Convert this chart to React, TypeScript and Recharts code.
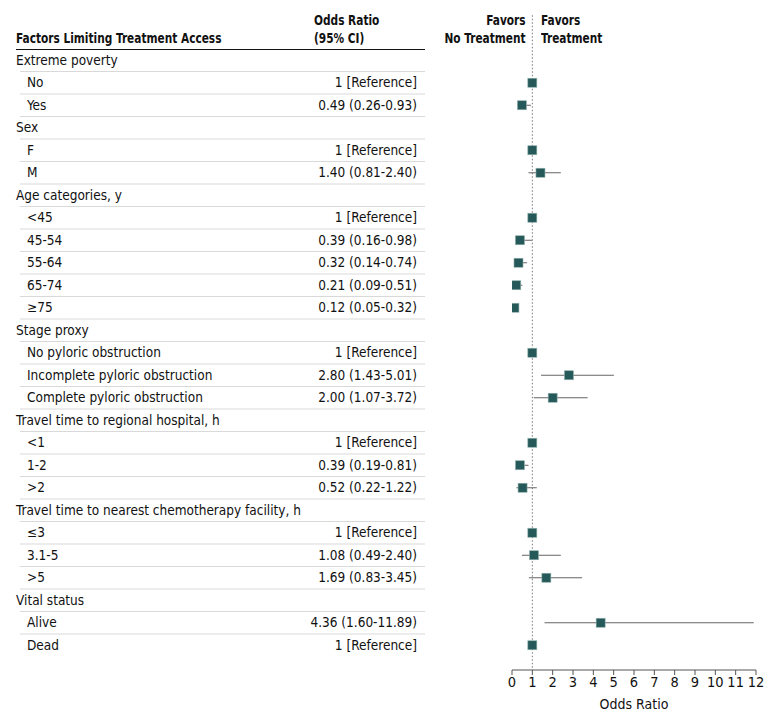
import React from "react";
import {
  ErrorBar,
  ReferenceLine,
  Scatter,
  ScatterChart,
  XAxis,
  YAxis,
} from "recharts";

// table rows, top to bottom; sub rows are indented
const labels = [
  "Extreme poverty", "No", "Yes",
  "Sex", "F", "M",
  "Age categories, y", "<45", "45-54", "55-64", "65-74", "≥75",
  "Stage proxy", "No pyloric obstruction", "Incomplete pyloric obstruction", "Complete pyloric obstruction",
  "Travel time to regional hospital, h", "<1", "1-2", ">2",
  "Travel time to nearest chemotherapy facility, h", "≤3", "3.1-5", ">5",
  "Vital status", "Alive", "Dead",
];
const isGroup = [
  true, false, false,
  true, false, false,
  true, false, false, false, false, false,
  true, false, false, false,
  true, false, false, false,
  true, false, false, false,
  true, false, false,
];
// odds ratio and CI (null = group header row)
const oddsRatio = [
  null, 1, 0.49,
  null, 1, 1.4,
  null, 1, 0.39, 0.32, 0.21, 0.12,
  null, 1, 2.8, 2.0,
  null, 1, 0.39, 0.52,
  null, 1, 1.08, 1.69,
  null, 4.36, 1,
];
const ciLow = [
  null, null, 0.26,
  null, null, 0.81,
  null, null, 0.16, 0.14, 0.09, 0.05,
  null, null, 1.43, 1.07,
  null, null, 0.19, 0.22,
  null, null, 0.49, 0.83,
  null, 1.6, null,
];
const ciHigh = [
  null, null, 0.93,
  null, null, 2.4,
  null, null, 0.98, 0.74, 0.51, 0.32,
  null, null, 5.01, 3.72,
  null, null, 0.81, 1.22,
  null, null, 2.4, 3.45,
  null, 11.89, null,
];
const xTicks = [0, 1, 2, 3, 4, 5, 6, 7, 8, 9, 10, 11, 12];

const FONT = "'DejaVu Sans Condensed', 'Liberation Sans', sans-serif";
const MARK = "#265959";
const INK = "#111";

const fmt = (v: number) => v.toFixed(2);

const orText = labels.map((_, i) => {
  const or = oddsRatio[i];
  if (or == null) return "";
  if (ciLow[i] == null) return "1 [Reference]";
  return `${fmt(or)} (${fmt(ciLow[i] as number)}-${fmt(ciHigh[i] as number)})`;
});

const rowTicks = labels.map((_, i) => i);

const points = labels
  .map((_, i) => ({
    row: i,
    or: oddsRatio[i],
    err:
      ciLow[i] != null
        ? [(oddsRatio[i] as number) - (ciLow[i] as number), (ciHigh[i] as number) - (oddsRatio[i] as number)]
        : [0, 0],
  }))
  .filter((p) => p.or != null);

function TableTick(props: any) {
  const { y, payload } = props;
  const i = payload.value as number;
  const last = i === labels.length - 1;
  return (
    <g>
      <text
        x={isGroup[i] ? 16 : 27}
        y={y}
        dy="0.35em"
        fontSize={13.5}
        fontFamily={FONT}
        fill={INK}
      >
        {labels[i]}
      </text>
      <text
        x={417}
        y={y}
        dy="0.35em"
        textAnchor="end"
        fontSize={13.5}
        fontFamily={FONT}
        fill={INK}
      >
        {orText[i]}
      </text>
      {!last && (
        <line x1={20} x2={425} y1={y + 11.25} y2={y + 11.25} stroke="#d9d9d9" strokeWidth={1} />
      )}
    </g>
  );
}

function Square(props: any) {
  const { cx, cy } = props;
  return <rect x={cx - 4.5} y={cy - 4.5} width={9} height={9} fill={MARK} stroke="#8fb0ad" strokeWidth={0.6} />;
}

const head: React.CSSProperties = {
  position: "absolute",
  fontFamily: FONT,
  fontSize: 14,
  fontWeight: 700,
  color: INK,
  lineHeight: "18px",
  whiteSpace: "nowrap",
  transform: "scaleX(0.84)",
  transformOrigin: "left center",
};

export default function App() {
  return (
    <div style={{ position: "absolute", left: 0, top: 0, width: 780, height: 721, background: "#fff" }}>
      <ScatterChart width={780} height={721} margin={{ top: 49, right: 24, bottom: 0, left: 0 }}>
        <XAxis
          type="number"
          dataKey="or"
          domain={[0, 12]}
          ticks={xTicks}
          allowDataOverflow
          height={51}
          tickSize={5}
          stroke="#555"
          tick={{ fill: INK, fontSize: 14.5, fontFamily: FONT }}
          label={{
            value: "Odds Ratio",
            position: "insideBottom",
            offset: 12,
            fill: INK,
            fontSize: 14,
            fontFamily: FONT,
          }}
        />
        <YAxis
          type="number"
          dataKey="row"
          domain={[-0.5, 27.1]}
          reversed
          ticks={rowTicks}
          interval={0}
          width={512}
          axisLine={false}
          tickLine={false}
          tick={<TableTick />}
        />
        <ReferenceLine
          segment={[
            { x: 1, y: -2 },
            { x: 1, y: 27.1 },
          ]}
          ifOverflow="visible"
          stroke="#777"
          strokeDasharray="1.5 2"
        />
        <Scatter data={points} shape={<Square />} isAnimationActive={false}>
          <ErrorBar dataKey="err" direction="x" width={0} stroke="#666" strokeWidth={1} isAnimationActive={false} />
        </Scatter>
      </ScatterChart>
      <div style={{ position: "absolute", left: 16, top: 0, width: 409, height: 50, borderBottom: "1.5px solid #111", boxSizing: "border-box" }} />
      <div style={{ ...head, left: 16, top: 29 }}>Factors Limiting Treatment Access</div>
      <div style={{ ...head, left: 314, top: 11 }}>Odds Ratio</div>
      <div style={{ ...head, left: 314, top: 29 }}>(95% CI)</div>
      <div style={{ ...head, right: 780 - 526, top: 11, textAlign: "right", transformOrigin: "right center" }}>
        Favors
        <br />
        No Treatment
      </div>
      <div style={{ ...head, left: 541, top: 11 }}>
        Favors
        <br />
        Treatment
      </div>
    </div>
  );
}
